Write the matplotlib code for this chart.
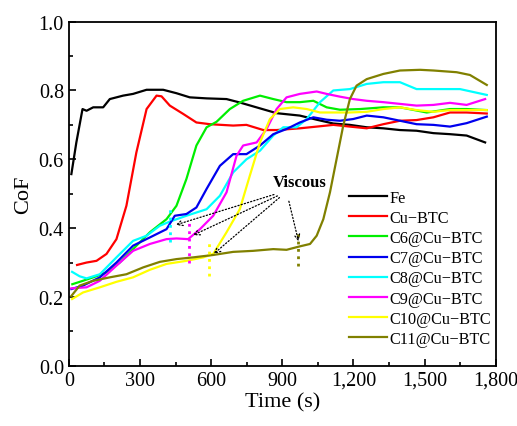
import matplotlib
matplotlib.use("Agg")
import matplotlib.pyplot as plt
from matplotlib.ticker import MultipleLocator, FuncFormatter

plt.rcParams['font.family'] = ['Liberation Serif', 'DejaVu Serif']

# Fe
fe_t = [11, 32, 58, 75, 103, 145, 173, 229, 271, 328, 398, 454, 510, 581, 665, 721, 806, 876,
        974, 1045, 1115, 1185, 1256, 1326, 1396, 1466, 1537, 1607, 1677, 1755]
fe_v = [0.557, 0.649, 0.746, 0.741, 0.751, 0.751, 0.775, 0.785, 0.790, 0.802, 0.802, 0.792, 0.780,
        0.777, 0.775, 0.765, 0.748, 0.734, 0.727, 0.715, 0.704, 0.700, 0.693, 0.690, 0.685, 0.683,
        0.676, 0.673, 0.669, 0.649]
# Cu-BTC
cu_t = [35, 75, 117, 159, 201, 243, 285, 328, 370, 391, 426, 482, 538, 595, 693, 749, 820, 876,
        974, 1045, 1115, 1185, 1256, 1326, 1396, 1466, 1537, 1607, 1677, 1762]
cu_v = [0.293, 0.300, 0.305, 0.325, 0.368, 0.465, 0.620, 0.746, 0.785, 0.783, 0.756, 0.732, 0.707,
        0.702, 0.698, 0.700, 0.685, 0.685, 0.690, 0.695, 0.700, 0.695, 0.690, 0.702, 0.712, 0.714,
        0.722, 0.736, 0.736, 0.733]
# C6@Cu-BTC
c6_t = [15, 60, 103, 159, 215, 271, 342, 412, 454, 496, 538, 581, 623, 679, 735, 806, 862, 918,
        974, 1031, 1087, 1143, 1228, 1326, 1396, 1509, 1607, 1677, 1762]
c6_v = [0.237, 0.247, 0.257, 0.271, 0.300, 0.339, 0.388, 0.426, 0.465, 0.543, 0.640, 0.693, 0.709,
        0.746, 0.770, 0.785, 0.775, 0.766, 0.766, 0.770, 0.751, 0.744, 0.746, 0.751, 0.751, 0.736,
        0.746, 0.746, 0.743]
# C7@Cu-BTC
c7_t = [11, 60, 131, 201, 271, 342, 412, 447, 496, 538, 581, 637, 693, 749, 806, 862, 918, 974,
        1031, 1087, 1143, 1199, 1256, 1326, 1396, 1466, 1537, 1607, 1677, 1762]
c7_v = [0.223, 0.233, 0.257, 0.300, 0.349, 0.373, 0.397, 0.436, 0.441, 0.460, 0.514, 0.581, 0.615,
        0.615, 0.640, 0.673, 0.688, 0.707, 0.722, 0.715, 0.712, 0.717, 0.727, 0.722, 0.712, 0.702,
        0.700, 0.695, 0.705, 0.724]
# C8@Cu-BTC
c8_t = [14, 46, 75, 131, 201, 271, 328, 384, 426, 496, 581, 637, 693, 749, 806, 862, 904, 960,
        1003, 1059, 1115, 1185, 1256, 1326, 1396, 1466, 1537, 1649, 1762]
c8_v = [0.273, 0.260, 0.254, 0.266, 0.315, 0.363, 0.378, 0.407, 0.419, 0.436, 0.455, 0.494, 0.562,
        0.600, 0.625, 0.669, 0.693, 0.693, 0.717, 0.766, 0.800, 0.804, 0.819, 0.824, 0.824, 0.804,
        0.804, 0.804, 0.787]
# C9@Cu-BTC
c9_t = [11, 75, 131, 201, 271, 342, 412, 454, 503, 553, 609, 665, 707, 735, 792, 834, 876, 918,
        974, 1045, 1087, 1143, 1199, 1256, 1326, 1396, 1466, 1537, 1607, 1677, 1755]
c9_v = [0.225, 0.228, 0.247, 0.291, 0.334, 0.354, 0.368, 0.370, 0.368, 0.397, 0.436, 0.504, 0.610,
        0.640, 0.649, 0.688, 0.746, 0.780, 0.790, 0.797, 0.790, 0.782, 0.775, 0.770, 0.766, 0.761,
        0.756, 0.758, 0.764, 0.758, 0.775]
# C10@Cu-BTC
c10_t = [14, 60, 131, 201, 271, 342, 412, 496, 567, 609, 665, 721, 763, 806, 848, 890, 946, 1003,
         1059, 1115, 1185, 1256, 1326, 1396, 1466, 1537, 1607, 1677, 1762]
c10_v = [0.194, 0.213, 0.228, 0.244, 0.257, 0.279, 0.296, 0.305, 0.315, 0.325, 0.388, 0.455, 0.552,
         0.649, 0.717, 0.746, 0.751, 0.746, 0.736, 0.736, 0.736, 0.738, 0.746, 0.751, 0.743, 0.738,
         0.743, 0.743, 0.743]
# C11@Cu-BTC
c11_t = [11, 46, 103, 173, 243, 314, 384, 454, 524, 609, 693, 777, 862, 918, 974, 1017, 1045, 1073,
         1101, 1129, 1157, 1185, 1213, 1256, 1326, 1396, 1481, 1537, 1635, 1691, 1762]
c11_v = [0.203, 0.233, 0.247, 0.257, 0.266, 0.286, 0.302, 0.310, 0.315, 0.322, 0.331, 0.334, 0.339,
         0.337, 0.347, 0.354, 0.378, 0.426, 0.504, 0.601, 0.698, 0.775, 0.814, 0.833, 0.848, 0.858,
         0.860, 0.858, 0.853, 0.845, 0.816]

labels = ['Fe', 'Cu\u2212BTC', 'C6@Cu\u2212BTC', 'C7@Cu\u2212BTC', 'C8@Cu\u2212BTC',
          'C9@Cu\u2212BTC', 'C10@Cu\u2212BTC', 'C11@Cu\u2212BTC']
colors = ['black', 'red', '#00ee00', '#0000ee', 'cyan', 'magenta', 'yellow', '#808000']

# viscous markers: (time, ymin, ymax) of short dotted lines, and arrow tips
mark_t = [426, 505, 592, 967]
mark_lo = [0.36, 0.30, 0.26, 0.29]
mark_hi = [0.46, 0.415, 0.363, 0.39]
mark_col = ['cyan', 'magenta', 'yellow', '#808000']
tip_t = [440, 513, 602, 971]
tip_v = [0.407, 0.376, 0.320, 0.354]
start_t = [876, 890, 897, 925]
start_v = [0.500, 0.497, 0.494, 0.486]

fig = plt.figure(figsize=(5.17, 4.27), dpi=100)
ax = fig.add_axes([0.133, 0.141, 0.826, 0.806])

series = [(fe_t, fe_v), (cu_t, cu_v), (c6_t, c6_v), (c7_t, c7_v), (c8_t, c8_v),
          (c9_t, c9_v), (c10_t, c10_v), (c11_t, c11_v)]
draw_order = [0, 1, 2, 4, 3, 5, 6, 7]
lines = {}
for i in draw_order:
    t, v = series[i]
    lines[i], = ax.plot(t, v, color=colors[i], lw=1.6, label=labels[i])

for t, lo, hi, c in zip(mark_t, mark_lo, mark_hi, mark_col):
    ax.plot([t, t], [lo, hi], color=c, lw=2, ls=':')

for st, sv, tt, tv in zip(start_t, start_v, tip_t, tip_v):
    ax.annotate('', xy=(tt, tv), xytext=(st, sv),
                arrowprops=dict(arrowstyle='->', ls=':', lw=0.9, color='black'))

ax.text(974, 0.535, 'Viscous', fontsize=12, fontweight='bold', ha='center', va='center')

ax.set_xlim(0, 1800)
ax.set_ylim(0, 1.0)
ax.xaxis.set_major_locator(MultipleLocator(300))
ax.xaxis.set_minor_locator(MultipleLocator(150))
ax.yaxis.set_major_locator(MultipleLocator(0.2))
ax.yaxis.set_minor_locator(MultipleLocator(0.1))
ax.xaxis.set_major_formatter(FuncFormatter(lambda x, p: f"{int(x):,}"))
ax.yaxis.set_major_formatter(FuncFormatter(lambda y, p: f"{y:.1f}"))
ax.tick_params(which='both', direction='in', labelsize=14.5, width=1.2)
ax.tick_params(which='major', length=5)
ax.tick_params(which='minor', length=3)
for s in ax.spines.values():
    s.set_linewidth(1.3)

ax.set_xlabel('Time (s)', fontsize=16, labelpad=2)
ax.set_ylabel('CoF', fontsize=16, labelpad=4)

handles = [lines[i] for i in range(8)]
ax.legend(handles, labels, loc='upper left', bbox_to_anchor=(0.63, 0.545), frameon=False,
          fontsize=11.7, labelspacing=0.26, handlelength=2.3, handletextpad=0.2, borderpad=0.2)

fig.savefig('out.png', dpi=100)
